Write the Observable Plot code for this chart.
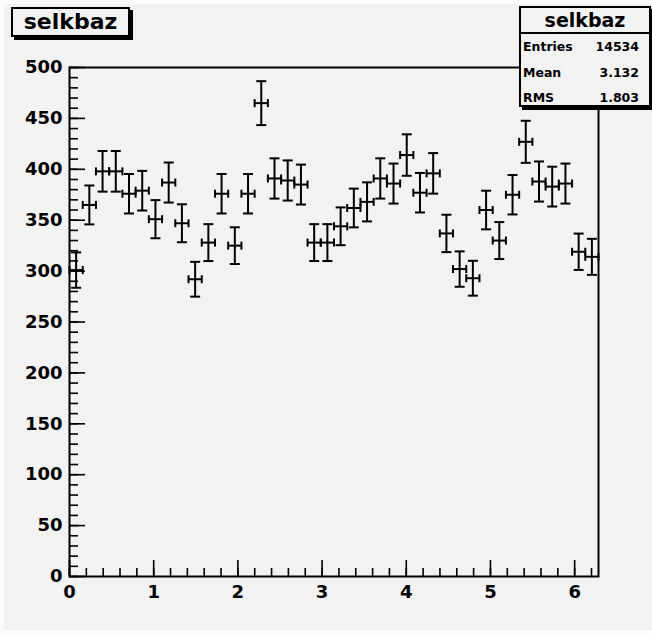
<!DOCTYPE html>
<html><head><meta charset="utf-8">
<script src="https://cdn.jsdelivr.net/npm/d3@7"></script>
<script src="https://cdn.jsdelivr.net/npm/@observablehq/plot@0.6"></script>
<style>
html,body{margin:0;padding:0;background:#fbfbfb;}
#wrap{position:absolute;left:4px;top:4px;width:648px;height:626px;background:#f2f2f2;}
#plot{position:absolute;left:-4px;top:-4px;width:652px;height:634px;}
.box{position:absolute;box-sizing:border-box;border:2px solid #000;background:#f2f2f2;box-shadow:3px 3px 0 #000;font-family:"DejaVu Sans",sans-serif;font-weight:bold;color:#000;}
#title{left:7px;top:3px;width:119px;height:30px;font-size:22px;line-height:26px;text-align:center;}
#stats{left:515px;top:2px;width:132px;height:101px;}
#stats .hd{height:26px;border-bottom:2px solid #000;font-size:19px;line-height:25px;text-align:center;box-sizing:border-box;}
#stats .row{display:flex;justify-content:space-between;font-size:12.5px;height:25.5px;line-height:25px;padding:0 10px 0 2px;}
</style></head><body>
<div id="wrap"><div id="plot"></div>
<div class="box" id="title"></div>
<div class="box" id="stats"></div>
</div>
<script>
// Histogram "selkbaz": 40 bins on [0, 2π]
const histName = "selkbaz";
const xMin = 0;
const xMax = 2 * Math.PI;
const counts = [301,365,398,398,376,379,351,387,347,292,
                328,376,325,376,465,391,389,385,328,328,
                344,362,368,391,386,414,377,396,337,302,
                293,360,330,375,427,388,383,386,319,314];
const statLabels = ["Entries", "Mean", "RMS"];
const statValues = ["14534", "3.132", "1.803"];
const yMajorTicks = [0,50,100,150,200,250,300,350,400,450,500];
const xMajorTicks = [0,1,2,3,4,5,6];

const nBins = counts.length;
const bw = (xMax - xMin) / nBins;
const rows = counts.map((c, i) => ({
  lo: xMin + i * bw, hi: xMin + (i + 1) * bw, x: xMin + (i + 0.5) * bw,
  y: c, e: Math.sqrt(c)
}));
const yMinor = d3.range(0, 501, 10);
const xMinor = d3.range(0, 6.3, 0.2);

const hcap = {draw(ctx){ ctx.moveTo(-5,0); ctx.lineTo(5,0); }};
const vcap = {draw(ctx){ ctx.moveTo(0,-4); ctx.lineTo(0,4); }};
const font = {fontFamily: "DejaVu Sans", fontWeight: "bold", fontSize: 18};
const fmt = d => String(d);

const chart = Plot.plot({
  width: 652, height: 634,
  marginLeft: 69, marginRight: 54, marginTop: 67, marginBottom: 58,
  style: {background: "transparent", color: "#000", overflow: "visible"},
  x: {domain: [xMin, xMax]},
  y: {domain: [0, 500]},
  marks: [
    Plot.axisY({ticks: yMinor, tickSize: -9, text: null, label: null, strokeWidth: 1.6}),
    Plot.axisY({ticks: yMajorTicks, tickSize: -16, text: null, label: null, strokeWidth: 1.6}),
    Plot.axisY({ticks: yMajorTicks, tickSize: 0, tickPadding: 7, label: null, tickFormat: fmt, ...font}),
    Plot.axisX({ticks: xMinor, tickSize: -8, text: null, label: null, strokeWidth: 1.6}),
    Plot.axisX({ticks: xMajorTicks, tickSize: -16, text: null, label: null, strokeWidth: 1.6}),
    Plot.axisX({ticks: xMajorTicks, tickSize: 0, tickPadding: 9, label: null, tickFormat: fmt, ...font}),
    Plot.frame({stroke: "#000", strokeWidth: 2}),
    Plot.ruleY(rows, {y: "y", x1: "lo", x2: "hi", stroke: "#000", strokeWidth: 2}),
    Plot.ruleX(rows, {x: "x", y1: d => d.y - d.e, y2: d => d.y + d.e, stroke: "#000", strokeWidth: 2}),
    Plot.dot(rows, {x: "x", y: d => d.y + d.e, symbol: hcap, r: 5, fill: "none", stroke: "#000", strokeWidth: 2}),
    Plot.dot(rows, {x: "x", y: d => d.y - d.e, symbol: hcap, r: 5, fill: "none", stroke: "#000", strokeWidth: 2}),
    Plot.dot(rows, {x: "lo", y: "y", symbol: vcap, r: 4, fill: "none", stroke: "#000", strokeWidth: 2}),
    Plot.dot(rows, {x: "hi", y: "y", symbol: vcap, r: 4, fill: "none", stroke: "#000", strokeWidth: 2})
  ]
});
document.getElementById("plot").appendChild(chart);

document.getElementById("title").textContent = histName;
const stats = document.getElementById("stats");
const hd = document.createElement("div"); hd.className = "hd"; hd.textContent = histName; stats.appendChild(hd);
statLabels.forEach((l, i) => {
  const r = document.createElement("div"); r.className = "row";
  const a = document.createElement("span"); a.textContent = l;
  const b = document.createElement("span"); b.textContent = statValues[i];
  r.appendChild(a); r.appendChild(b); stats.appendChild(r);
});
</script>
</body></html>
